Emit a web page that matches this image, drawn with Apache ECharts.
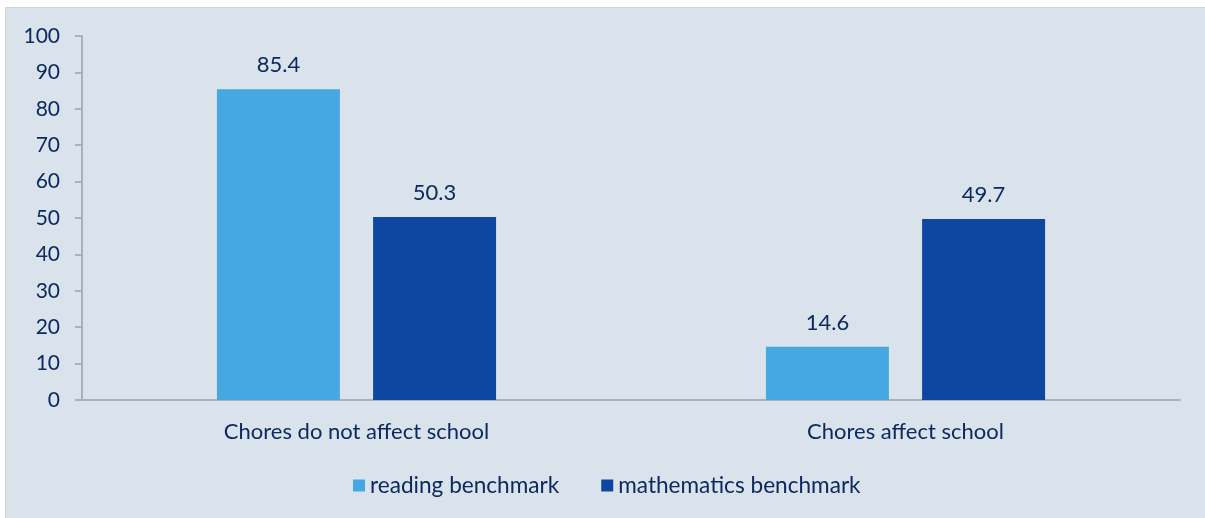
<!DOCTYPE html>
<html><head><meta charset="utf-8">
<script src="https://cdn.jsdelivr.net/npm/echarts@6/dist/echarts.min.js"></script>
<style>html,body{margin:0;padding:0;background:#fff}#c{width:1205px;height:518px}</style>
</head><body><div id="c"></div>
<script>
const categories = ['Chores do not affect school', 'Chores affect school'];
const readingValues = [85.4, 14.6];
const mathValues = [50.3, 49.7];
const seriesNames = ['reading benchmark', 'mathematics benchmark'];
const textColor = '#0c2a60';
const font = 'Lato';
const chart = echarts.init(document.getElementById('c'));
chart.setOption({
  animation: false,
  textStyle: {fontFamily: font},
  graphic: [{type: 'rect', z: -10, shape: {x: 5.5, y: 7.5, width: 1205, height: 520}, style: {fill: '#dae3ec', stroke: '#d0d4d8', lineWidth: 1}}],
  grid: {left: 82, right: 25, top: 36, bottom: 118},
  legend: {
    bottom: 16, left: 348, itemWidth: 12, itemHeight: 12, itemGap: 42,
    icon: 'rect',
    textStyle: {color: textColor, fontSize: 22.6, fontFamily: font, padding: [0, 0, 0, 0]},
    data: seriesNames
  },
  xAxis: {
    type: 'category', data: categories,
    axisLine: {lineStyle: {color: '#a9b2bc', width: 2}},
    axisTick: {show: false},
    axisLabel: {color: textColor, fontSize: 22, fontFamily: font, margin: 21}
  },
  yAxis: {
    type: 'value', min: 0, max: 100, interval: 10,
    axisLine: {show: true, lineStyle: {color: '#a9b2bc', width: 2}},
    axisTick: {show: true, length: 7, lineStyle: {color: '#a9b2bc', width: 2}},
    splitLine: {show: false},
    axisLabel: {color: textColor, fontSize: 21, fontFamily: font, margin: 22}
  },
  series: [
    {name: seriesNames[0], type: 'bar', data: readingValues, barWidth: '22.4%', barGap: '27%',
     itemStyle: {color: '#45a8e1'},
     label: {show: true, position: 'top', distance: 13, color: textColor, fontSize: 22, fontFamily: font}},
    {name: seriesNames[1], type: 'bar', data: mathValues, barWidth: '22.4%',
     itemStyle: {color: '#0e46a2'},
     label: {show: true, position: 'top', distance: 13, color: textColor, fontSize: 22, fontFamily: font}}
  ]
});
</script></body></html>
